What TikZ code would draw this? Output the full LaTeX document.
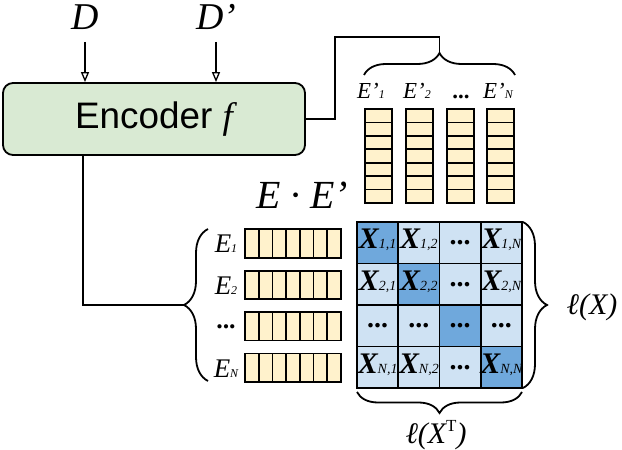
\documentclass[tikz,border=0pt]{standalone}
\usepackage{fontspec}
\setmainfont{Liberation Sans}
\newfontfamily\serifit{Liberation Serif}
\usetikzlibrary{arrows.meta,decorations.pathreplacing}
\definecolor{encgreen}{HTML}{D9EAD3}
\definecolor{vecyellow}{HTML}{FFF2CC}
\definecolor{lightblue}{HTML}{CFE2F3}
\definecolor{darkblue}{HTML}{6FA8DC}
\newcommand\mysub[2]{{\fontsize{#1}{#1}\selectfont\mdseries #2}}
\newcommand\fs[1]{\fontsize{#1}{#1}\selectfont}
\begin{document}
\begin{tikzpicture}[x=1bp,y=-1bp,
  line/.style={line width=1.6bp},
  arr/.style={line width=1.3bp,-{Triangle[open,length=10bp,width=8bp]}},
  brc/.style={decorate,decoration={brace,amplitude=#1},line width=1.8bp},
  lbl/.style={inner sep=0pt,anchor=base,font=\serifit\itshape},
  xlbl/.style={inner sep=0pt,anchor=base,font=\serifit\bfseries\itshape\fs{30}},
  dotlbl/.style={inner sep=0pt,font=\serifit\bfseries\fs{28}},
  cellbox/.style={draw,line width=1.7bp},
]
\useasboundingbox (0,0) rectangle (622,450);

% encoder
\node[draw,line width=1.8bp,rounded corners=10bp,fill=encgreen,
  minimum width=302bp,minimum height=72bp,inner sep=0] (enc) at (154,119)
  {\fs{37}Encoder {\serifit\itshape f}};

% inputs
\node[lbl,font=\serifit\itshape\fs{38}] (D) at (85,30) {D};
\node[lbl,font=\serifit\itshape\fs{38}] (Dp) at (216,30) {D’};
\coordinate (a1) at (85,42);
\coordinate (a2) at (216,42);
\draw[arr] (a1) -- (a1 |- enc.north);
\draw[arr] (a2) -- (a2 |- enc.north);

% top brace and connector
\coordinate (tbl) at (364,75);
\coordinate (tbr) at (515,75);
\coordinate (tb) at (439.5,53);
\coordinate (tbtop) at (439.5,37);
\draw[brc=22bp] (tbl) -- (tbr);
\draw[line] (enc.east) -- ++(29,0) |- (tbtop) -- (tb);

% E' labels
\node[lbl,font=\serifit\itshape\fs{23}] (ep1) at (371,99) {E’\mysub{12}{1}};
\node[lbl,font=\serifit\itshape\fs{23}] (ep2) at (417,99) {E’\mysub{12}{2}};
\node[lbl,font=\serifit\bfseries\fs{23}] (ep3) at (461,99) {...};
\node[lbl,font=\serifit\itshape\fs{23}] (ep4) at (498,99) {E’\mysub{12}{N}};

% column vectors
\foreach \x in {365,406,447,487} {
  \foreach \j in {0,...,6} {
    \draw[cellbox,fill=vecyellow] (\x,{109+\j*13.43}) rectangle ++(27,13.43);
  }
}

% E . E'
\node[lbl,font=\serifit\itshape\fs{40}] (ee) at (302,209) {E · E’};

% row vectors
\foreach \r in {0,...,3} {
  \pgfmathsetmacro\yc{243.5+\r*41.4}
  \foreach \k in {0,...,6} {
    \draw[cellbox,fill=vecyellow] ({245+\k*13.71},{\yc-14.2}) rectangle ++(13.71,28.4);
  }
}
\node[lbl,font=\serifit\itshape\fs{27}] (e1) at (226,253) {E\mysub{12}{1}};
\node[lbl,font=\serifit\itshape\fs{27}] (e2) at (226,294.4) {E\mysub{12}{2}};
\node[inner sep=0,font=\serifit\bfseries\fs{26}] (e3) at (226,327) {...};
\node[lbl,font=\serifit\itshape\fs{27}] (e4) at (226,377.2) {E\mysub{12}{N}};

% left brace and connector
\coordinate (lbb) at (208,381);
\coordinate (lbt) at (208,229);
\coordinate (lbtip) at (184,305);
\coordinate (encx) at (83,0);
\draw[brc=24bp] (lbb) -- (lbt);
\draw[line] (encx |- enc.south) -- (encx |- lbtip) -- (lbtip);

% matrix
\foreach \i in {1,...,4} {
  \foreach \j in {1,...,4} {
    \pgfmathsetmacro\cx{357+41.25*(\j-0.5)}
    \pgfmathsetmacro\cy{222+41.5*(\i-0.5)}
    \ifnum\i=\j \def\cc{darkblue}\else\def\cc{lightblue}\fi
    \node[cellbox,fill=\cc,minimum width=41.25bp,minimum height=41.5bp,
      inner sep=0,outer sep=0] (m\i\j) at (\cx,\cy) {};
  }
}
\node[xlbl] at ([yshift=-6bp]m11.center) {X\mysub{14}{1,1}};
\node[xlbl] at ([yshift=-6bp]m12.center) {X\mysub{14}{1,2}};
\node[dotlbl] at (m13.center) {...};
\node[xlbl] at ([yshift=-6bp]m14.center) {X\mysub{14}{1,N}};
\node[xlbl] at ([yshift=-6bp]m21.center) {X\mysub{14}{2,1}};
\node[xlbl] at ([yshift=-6bp]m22.center) {X\mysub{14}{2,2}};
\node[dotlbl] at (m23.center) {...};
\node[xlbl] at ([yshift=-6bp]m24.center) {X\mysub{14}{2,N}};
\node[dotlbl] at (m31.center) {...};
\node[dotlbl] at (m32.center) {...};
\node[dotlbl] at (m33.center) {...};
\node[dotlbl] at (m34.center) {...};
\node[xlbl] at ([yshift=-6bp]m41.center) {X\mysub{14}{N,1}};
\node[xlbl] at ([yshift=-6bp]m42.center) {X\mysub{14}{N,2}};
\node[dotlbl] at (m43.center) {...};
\node[xlbl] at ([yshift=-6bp]m44.center) {X\mysub{14}{N,N}};

% right brace
\coordinate (rbt) at (523,222);
\coordinate (rbb) at (523,388);
\draw[brc=24bp] (rbt) -- (rbb);
\node[inner sep=0,font=\serifit\itshape\fs{30}] (lx) at (592,307) {ℓ(X)};

% bottom brace
\coordinate (bbr) at (522,392);
\coordinate (bbl) at (357,392);
\draw[brc=21bp] (bbr) -- (bbl);
\node[inner sep=0,font=\serifit\itshape\fs{30}] (lxt) at (436,435) {ℓ(X\raisebox{0.42em}{\upshape\fs{17}T})};
\end{tikzpicture}
\end{document}
